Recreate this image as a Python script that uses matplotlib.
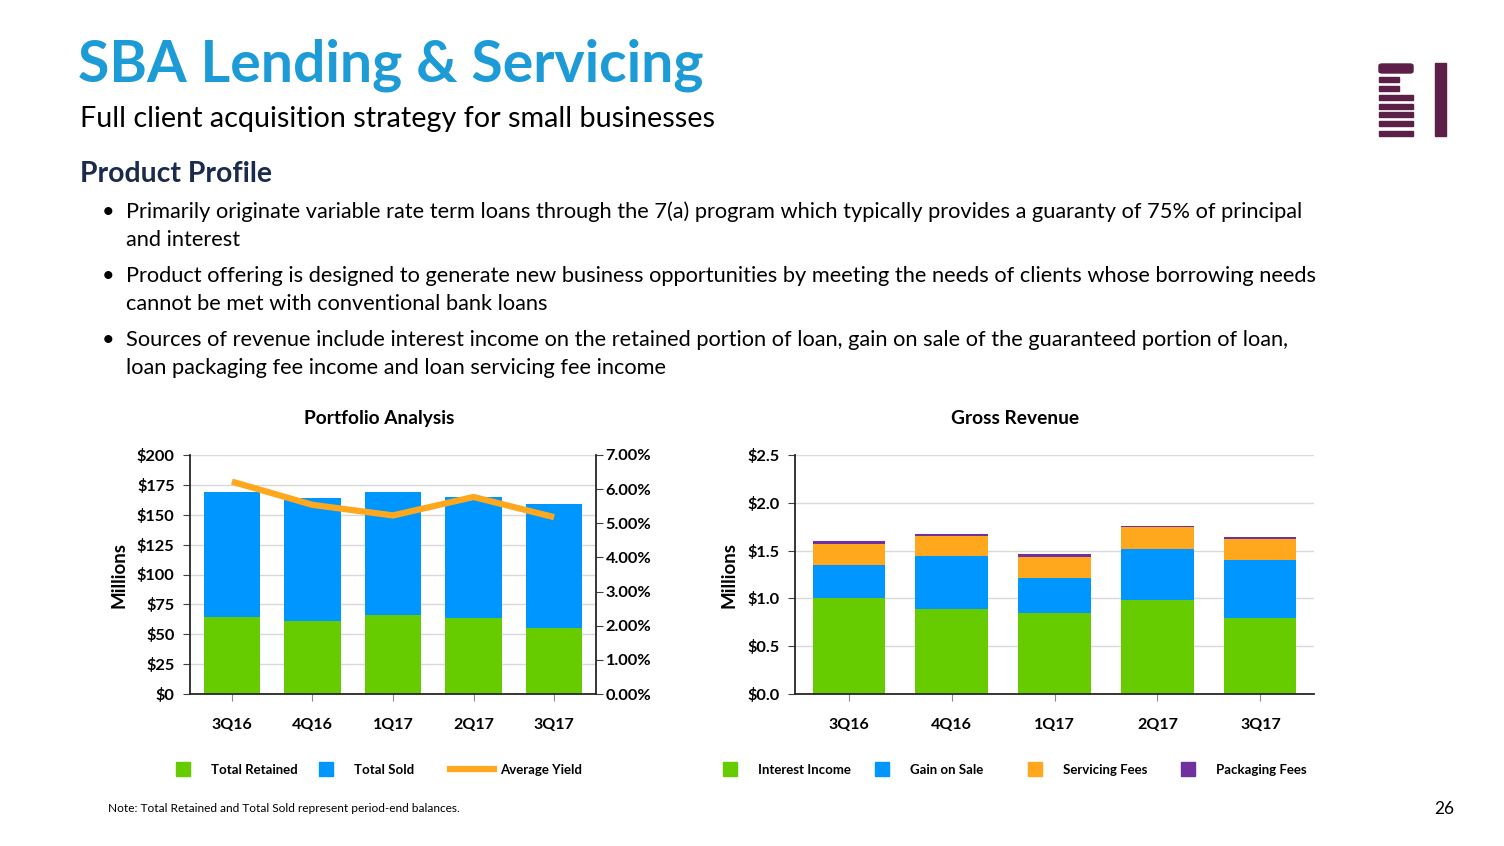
import matplotlib
matplotlib.use('Agg')
import matplotlib.pyplot as plt
from matplotlib.lines import Line2D
from matplotlib.patches import Rectangle, FancyBboxPatch

plt.rcParams['font.family'] = ['Lato', 'DejaVu Sans']

# Portfolio analysis (millions / percent)
quarters = ['3Q16', '4Q16', '1Q17', '2Q17', '3Q17']
total_retained = [64.6, 61.3, 66.4, 63.3, 55.5]
total_sold = [104.2, 102.4, 102.4, 101.3, 103.2]
average_yield = [6.22, 5.54, 5.23, 5.77, 5.18]

# Gross revenue (millions)
interest_income = [1.00, 0.89, 0.85, 0.98, 0.80]
gain_on_sale = [0.35, 0.55, 0.36, 0.54, 0.60]
servicing_fees = [0.22, 0.215, 0.22, 0.225, 0.225]
packaging_fees = [0.03, 0.02, 0.03, 0.017, 0.013]

bullets = [
    ['Primarily originate variable rate term loans through the 7(a) program which typically provides a guaranty of 75% of principal',
     'and interest'],
    ['Product offering is designed to generate new business opportunities by meeting the needs of clients whose borrowing needs',
     'cannot be met with conventional bank loans'],
    ['Sources of revenue include interest income on the retained portion of loan, gain on sale of the guaranteed portion of loan,',
     'loan packaging fee income and loan servicing fee income'],
]

GREEN = '#66cc00'
BLUE = '#0096ff'
ORANGE = '#ffa81e'
PURPLE = '#7030a0'
GRID = '#d9d9d9'
W, H = 1504, 846

fig = plt.figure(figsize=(15.04, 8.46), dpi=100)
renderer = fig.canvas.get_renderer()


def px(x, y):
    return x / W, 1 - y / H


def fit_text(x, y, s, width, size=20, **kw):
    # scale the font size so the text spans the given pixel width
    t = fig.text(*px(x, y), s, fontsize=size, va='baseline', ha='left', **kw)
    w = t.get_window_extent(renderer).width
    t.set_fontsize(size * width / w)
    return t


fit_text(78, 82, 'SBA Lending & Servicing', 625, color='#1c9bd7', fontweight='bold')
fit_text(80, 127, 'Full client acquisition strategy for small businesses', 636, color='black')
fit_text(80, 182, 'Product Profile', 192, color='#1a2b4c', fontweight='bold')

t0 = fit_text(126, 218, bullets[0][0], 1179, color='black')
bsize = t0.get_fontsize()
y = 218
for i, lines in enumerate(bullets):
    fig.text(*px(108, y - 6), '\u2022', fontsize=bsize, ha='center', va='center', color='black')
    for line in lines:
        if not (i == 0 and line == lines[0]):
            fig.text(*px(126, y), line, fontsize=bsize, va='baseline', color='black')
        y += 28
    y += 8

fit_text(108, 812, 'Note: Total Retained and Total Sold represent period-end balances.', 353, color='black')
fig.text(*px(1454, 814), '26', fontsize=12.5, color='black', va='baseline', ha='right')

# logo
LOGO = '#5b1f48'
fig.patches.append(FancyBboxPatch(px(1379, 73), 34 / W, 9 / H, boxstyle='round,pad=0,rounding_size=0.002',
                                  transform=fig.transFigure, color=LOGO))
for y0, x1 in [(82, 1399), (91, 1399), (100, 1413), (109, 1413), (117, 1413), (126, 1413), (136, 1413)]:
    fig.patches.append(Rectangle(px(1379, y0), (x1 - 1379) / W, 4.5 / H,
                                 transform=fig.transFigure, color=LOGO))
fig.patches.append(Rectangle(px(1435, 136), 11 / W, 73 / H, transform=fig.transFigure, color=LOGO))

x = list(range(len(quarters)))


def style_axes(ax):
    ax.set_xlim(-0.52, 4.52)
    ax.set_xticks(x)
    ax.set_xticklabels(quarters, fontsize=11.5, fontweight='bold')
    ax.tick_params(axis='x', length=5, color='#888888', pad=12)
    ax.tick_params(axis='y', length=5, color='#404040', labelsize=11.8, pad=6)
    for lab in ax.get_yticklabels():
        lab.set_fontweight('bold')
    ax.grid(axis='y', color=GRID, linewidth=1)
    ax.set_axisbelow(True)
    ax.spines['top'].set_visible(False)
    ax.spines['right'].set_visible(False)
    for sp in ('left', 'bottom'):
        ax.spines[sp].set_color('#262626')
        ax.spines[sp].set_linewidth(1.3)
    ax.set_ylabel('Millions', fontsize=13.5, fontweight='bold', labelpad=7)


# Portfolio Analysis
ax1 = fig.add_axes([190 / W, 1 - 694 / H, 406 / W, 239 / H])
ax1.bar(x, total_retained, width=0.7, color=GREEN, label='Total Retained')
ax1.bar(x, total_sold, width=0.7, bottom=total_retained, color=BLUE, label='Total Sold')
ax1.set_ylim(0, 200)
ax1.set_yticks(range(0, 201, 25))
ax1.set_yticklabels(['$%d' % v for v in range(0, 201, 25)])
style_axes(ax1)
ax1b = ax1.twinx()
ax1b.plot(x, average_yield, color=ORANGE, linewidth=4.5, solid_capstyle='butt')
ax1b.set_ylim(0, 7)
ax1b.set_yticks(range(0, 8))
ax1b.set_yticklabels(['%.2f%%' % v for v in range(0, 8)], fontsize=11.8, fontweight='bold')
ax1b.tick_params(axis='y', length=5, color='#404040', pad=2)
for sp in ('top', 'left', 'bottom'):
    ax1b.spines[sp].set_visible(False)
ax1b.spines['right'].set_color('#262626')
ax1b.spines['right'].set_linewidth(1.3)
fig.text(*px(379, 424), 'Portfolio Analysis', fontsize=13.8, fontweight='bold', ha='center', va='baseline')

# Gross Revenue
ax2 = fig.add_axes([795 / W, 1 - 694 / H, 519 / W, 239 / H])
b = [0] * len(x)
for vals, col, lab in [(interest_income, GREEN, 'Interest Income'), (gain_on_sale, BLUE, 'Gain on Sale'),
                       (servicing_fees, ORANGE, 'Servicing Fees'), (packaging_fees, PURPLE, 'Packaging Fees')]:
    ax2.bar(x, vals, width=0.7, bottom=b, color=col, label=lab)
    b = [p + q for p, q in zip(b, vals)]
ax2.set_ylim(0, 2.5)
ax2.set_yticks([0, 0.5, 1.0, 1.5, 2.0, 2.5])
ax2.set_yticklabels(['$%.1f' % v for v in [0, 0.5, 1.0, 1.5, 2.0, 2.5]])
style_axes(ax2)
fig.text(*px(1015, 424), 'Gross Revenue', fontsize=13.8, fontweight='bold', ha='center', va='baseline')


def sq(c):
    return Line2D([], [], marker='s', markersize=10.5, linestyle='none', color=c)


# one legend entry per anchor so the entries sit where the slide puts them
legend_items = [
    (sq(GREEN), 'Total Retained', 161), (sq(BLUE), 'Total Sold', 304),
    (Line2D([], [], color=ORANGE, linewidth=4.5), 'Average Yield', 450),
    (sq(GREEN), 'Interest Income', 708), (sq(BLUE), 'Gain on Sale', 860),
    (sq(ORANGE), 'Servicing Fees', 1013), (sq(PURPLE), 'Packaging Fees', 1166),
]
for handle, label, hx in legend_items:
    fig.legend([handle], [label], frameon=False, prop={'weight': 'bold', 'size': 9.5},
               handlelength=3.33, handletextpad=0.45, borderpad=0, borderaxespad=0,
               loc='center left', bbox_to_anchor=px(hx, 770))

fig.savefig('out.png', dpi=100)
